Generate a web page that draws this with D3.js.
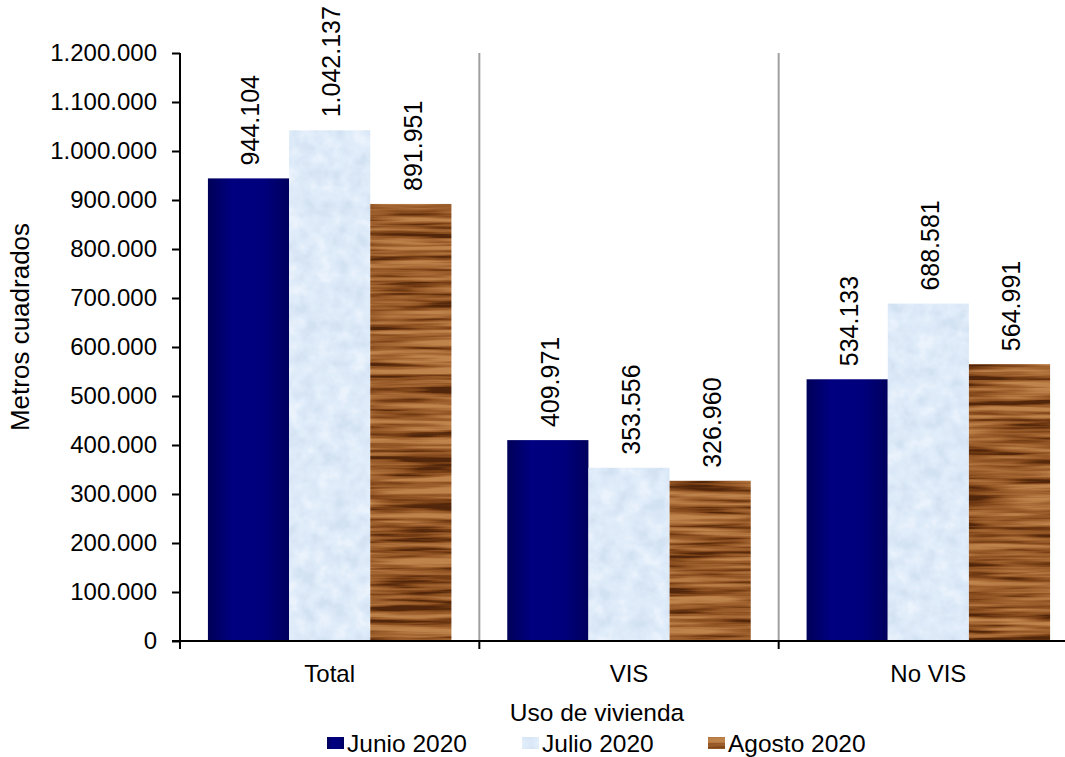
<!DOCTYPE html>
<html>
<head>
<meta charset="utf-8">
<script src="https://cdn.jsdelivr.net/npm/d3@7"></script>
<style>
  body { margin: 0; background: #fff; }
  svg text { font-family: "Liberation Sans", Arial, sans-serif; fill: #000; }
</style>
</head>
<body>
<div id="chart"></div>
<script>
var categories = ["Total", "VIS", "No VIS"];
var series = ["Junio 2020", "Julio 2020", "Agosto 2020"];
var junio = [944104, 409971, 534133];
var julio = [1042137, 353556, 688581];
var agosto = [891951, 326960, 564991];
var yTicks = [0, 100000, 200000, 300000, 400000, 500000, 600000, 700000, 800000, 900000, 1000000, 1100000, 1200000];

const w = 1065;
const h = 757;
const padLeft = 180, padTop = 53, axisY = 641, padRight = 1078;

var locale = d3.formatLocale({ decimal: ",", thousands: ".", grouping: [3], currency: ["$", ""] });
var fmt = locale.format(",d");

var rows = [];
categories.forEach((c, i) => {
    rows.push({ cat: c, s: 0, v: junio[i] });
    rows.push({ cat: c, s: 1, v: julio[i] });
    rows.push({ cat: c, s: 2, v: agosto[i] });
});

const svg = d3.select("#chart").append("svg")
    .attr("width", w)
    .attr("height", h);

svg.append("rect").attr("width", w).attr("height", h).attr("fill", "#fff");

// fills: gradient, paper, wood
var defs = svg.append("defs");
var grad = defs.append("linearGradient").attr("id", "navy").attr("x1", "0").attr("x2", "1").attr("y1", "0").attr("y2", "0");
grad.append("stop").attr("offset", "0%").attr("stop-color", "#000058");
grad.append("stop").attr("offset", "30%").attr("stop-color", "#000080");
grad.append("stop").attr("offset", "70%").attr("stop-color", "#00007c");
grad.append("stop").attr("offset", "100%").attr("stop-color", "#00005c");

var paper = defs.append("filter").attr("id", "paper").attr("color-interpolation-filters", "sRGB");
paper.append("feTurbulence").attr("type", "fractalNoise").attr("baseFrequency", "0.06").attr("numOctaves", 3).attr("seed", 7);
paper.append("feColorMatrix").attr("type", "matrix").attr("values", "2 0 0 0 -0.5  2 0 0 0 -0.5  2 0 0 0 -0.5  0 0 0 0 1");
var pct = paper.append("feComponentTransfer");
pct.append("feFuncR").attr("type", "table").attr("tableValues", "0.83 0.86 0.88 0.92");
pct.append("feFuncG").attr("type", "table").attr("tableValues", "0.89 0.91 0.93 0.95");
pct.append("feFuncB").attr("type", "table").attr("tableValues", "0.95 0.97 0.98 0.99");
paper.append("feComposite").attr("in2", "SourceGraphic").attr("operator", "in");

var wood = defs.append("filter").attr("id", "wood").attr("color-interpolation-filters", "sRGB");
wood.append("feTurbulence").attr("type", "fractalNoise").attr("baseFrequency", "0.008 0.16").attr("numOctaves", 3).attr("seed", 4);
wood.append("feColorMatrix").attr("type", "matrix").attr("values", "2.4 0 0 0 -0.7  2.4 0 0 0 -0.7  2.4 0 0 0 -0.7  0 0 0 0 1");
var wct = wood.append("feComponentTransfer");
wct.append("feFuncR").attr("type", "table").attr("tableValues", "0.32 0.46 0.57 0.63 0.70 0.75");
wct.append("feFuncG").attr("type", "table").attr("tableValues", "0.15 0.24 0.33 0.39 0.46 0.52");
wct.append("feFuncB").attr("type", "table").attr("tableValues", "0.04 0.08 0.14 0.19 0.25 0.30");
wood.append("feComposite").attr("in2", "SourceGraphic").attr("operator", "in");

function fillFor(s) { return s === 0 ? "url(#navy)" : "#000"; }
function filterFor(s) { return s === 1 ? "url(#paper)" : s === 2 ? "url(#wood)" : null; }

const x0 = d3.scaleBand().domain(categories).range([padLeft, padRight]).padding(0);
const x1 = d3.scaleBand().domain([0, 1, 2]).range([0, x0.bandwidth()]).paddingInner(0).paddingOuter(0.344);
const y = d3.scaleLinear().domain([0, 1200000]).range([axisY, padTop]);

// gray separators
svg.selectAll(".sep")
    .data(categories.slice(1))
    .enter().append("line")
    .attr("x1", (d) => x0(d)).attr("x2", (d) => x0(d))
    .attr("y1", padTop).attr("y2", axisY)
    .attr("stroke", "#a0a0a0").attr("stroke-width", 2);

// bars
svg.selectAll("rect.bar")
    .data(rows)
    .enter().append("rect")
    .attr("class", "bar")
    .attr("x", (d) => x0(d.cat) + x1(d.s))
    .attr("y", (d) => y(d.v))
    .attr("width", x1.bandwidth())
    .attr("height", (d) => axisY - y(d.v))
    .attr("fill", (d) => fillFor(d.s))
    .attr("filter", (d) => filterFor(d.s));

// value labels
svg.selectAll("text.val")
    .data(rows)
    .enter().append("text")
    .attr("class", "val")
    .attr("transform", (d) => "translate(" + (x0(d.cat) + x1(d.s) + x1.bandwidth() / 2 + 2) + "," + (y(d.v) - 13) + ") rotate(-90)")
    .attr("dy", "0.35em")
    .attr("font-size", 25)
    .text((d) => fmt(d.v));

// y axis
const yAxis = d3.axisLeft(y).tickValues(yTicks).tickFormat(fmt).tickSize(8).tickSizeOuter(0).tickPadding(15);
const gy = svg.append("g").attr("transform", "translate(" + padLeft + ",0)").call(yAxis);
gy.select(".domain").remove();
gy.selectAll(".tick line").attr("stroke", "#000").attr("stroke-width", 2);
gy.selectAll("text").attr("font-size", 24).attr("font-family", "Liberation Sans, Arial, sans-serif");
svg.append("line").attr("x1", padLeft).attr("x2", padLeft).attr("y1", padTop).attr("y2", axisY + 8)
    .attr("stroke", "#000").attr("stroke-width", 2);

// x axis
svg.append("line").attr("x1", padLeft - 8).attr("x2", w).attr("y1", axisY).attr("y2", axisY)
    .attr("stroke", "#000").attr("stroke-width", 2);
svg.selectAll(".xtick")
    .data(categories.slice(1))
    .enter().append("line")
    .attr("x1", (d) => x0(d)).attr("x2", (d) => x0(d))
    .attr("y1", axisY).attr("y2", axisY + 8)
    .attr("stroke", "#000").attr("stroke-width", 2);
svg.selectAll(".xlab")
    .data(categories)
    .enter().append("text")
    .attr("x", (d) => x0(d) + x0.bandwidth() / 2)
    .attr("y", 682)
    .attr("text-anchor", "middle")
    .attr("font-size", 24)
    .text((d) => d);

// titles
svg.append("text")
    .attr("transform", "translate(29,327) rotate(-90)")
    .attr("text-anchor", "middle")
    .attr("font-size", 26)
    .text("Metros cuadrados");
svg.append("text")
    .attr("x", 597).attr("y", 721)
    .attr("text-anchor", "middle")
    .attr("font-size", 24.5)
    .text("Uso de vivienda");

// legend
var legendX = [327, 522, 708];
var lg = svg.selectAll(".lg").data(series).enter().append("g")
    .attr("transform", (d, i) => "translate(" + legendX[i] + ",0)");
lg.append("rect")
    .attr("x", 0).attr("y", 737).attr("width", 17).attr("height", 12)
    .attr("fill", (d, i) => fillFor(i))
    .attr("filter", (d, i) => filterFor(i));
lg.append("text")
    .attr("x", 20).attr("y", 752)
    .attr("font-size", 24.5)
    .text((d) => d);
</script>
</body>
</html>
